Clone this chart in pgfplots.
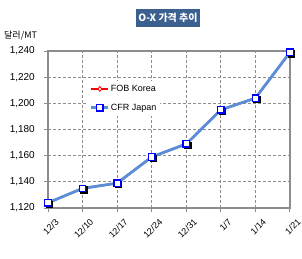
\documentclass[border=0pt]{standalone}
\usepackage{pgfplots}
\pgfplotsset{compat=1.18}
\usepackage{fontspec}
\setmainfont{Liberation Sans}
\newfontfamily\kr{Noto Sans CJK KR}
\definecolor{titlebg}{HTML}{3B5F8E}
\definecolor{cfrline}{HTML}{5B8ED8}
\definecolor{gridgray}{HTML}{8C8C8C}
\begin{document}
\begin{tikzpicture}
\useasboundingbox (0pt,0pt) rectangle (302pt,258pt);
\node[fill=titlebg, text=white, font=\kr\bfseries\fontsize{10}{12}\selectfont, inner sep=2pt, minimum height=18pt] at (168pt,240pt) {O-X 가격 추이};
\node[anchor=west, font=\kr\fontsize{9}{11}\selectfont, inner sep=0pt] at (4pt,222pt) {달러/MT};
\begin{axis}[
  at={(48pt,50pt)}, anchor=south west,
  scale only axis, width=242pt, height=157pt,
  xmin=0, xmax=7, ymin=1120, ymax=1240,
  xtick={0,...,7},
  xticklabels={12/3,12/10,12/17,12/24,12/31,1/7,1/14,1/21},
  ytick={1120,1140,...,1240},
  /pgf/number format/assume math mode=true,
  /pgf/number format/1000 sep={,},
  yticklabel style={font=\fontsize{10}{12}\selectfont, inner sep=1pt, xshift=-8pt},
  xticklabel style={font=\fontsize{9}{11}\selectfont, rotate=45, anchor=north east, inner sep=1pt, yshift=-8pt, xshift=1.5pt},
  grid=major,
  major grid style={gridgray, densely dashed, line width=0.8pt},
  axis line style={gridgray, line width=1.4pt},
  tick style={gridgray, line width=1pt},
  major tick length=4pt,
  tick pos=left,
  tick align=outside,
  legend style={at={(0.16,0.81)}, anchor=north west, draw=none, fill=white, font=\fontsize{9}{11}\selectfont, inner sep=3pt, row sep=9pt, nodes={inner sep=1pt}},
  legend cell align=left,
  clip=false,
]
\addplot[red, line width=2pt, mark=diamond*, mark size=2.5pt, mark options={fill=white, draw=red, line width=0.8pt}]
  coordinates {(0,1124) (1,1135) (2,1139) (3,1159) (4,1169) (5,1195) (6,1204) (7,1239)};
\addlegendentry{FOB Korea}
\addplot[forget plot, only marks, mark=square*, mark size=3.2pt, mark options={fill=black, draw=black, xshift=1.3pt, yshift=-1.3pt}]
  coordinates {(0,1124) (1,1135) (2,1139) (3,1159) (4,1169) (5,1195) (6,1204) (7,1239)};
\addplot[cfrline, line width=2.8pt, mark=square*, mark size=3.2pt, mark options={fill=white, draw=blue, line width=1.3pt}]
  coordinates {(0,1124) (1,1135) (2,1139) (3,1159) (4,1169) (5,1195) (6,1204) (7,1239)};
\addlegendentry{CFR Japan}
\end{axis}
\end{tikzpicture}
\end{document}
